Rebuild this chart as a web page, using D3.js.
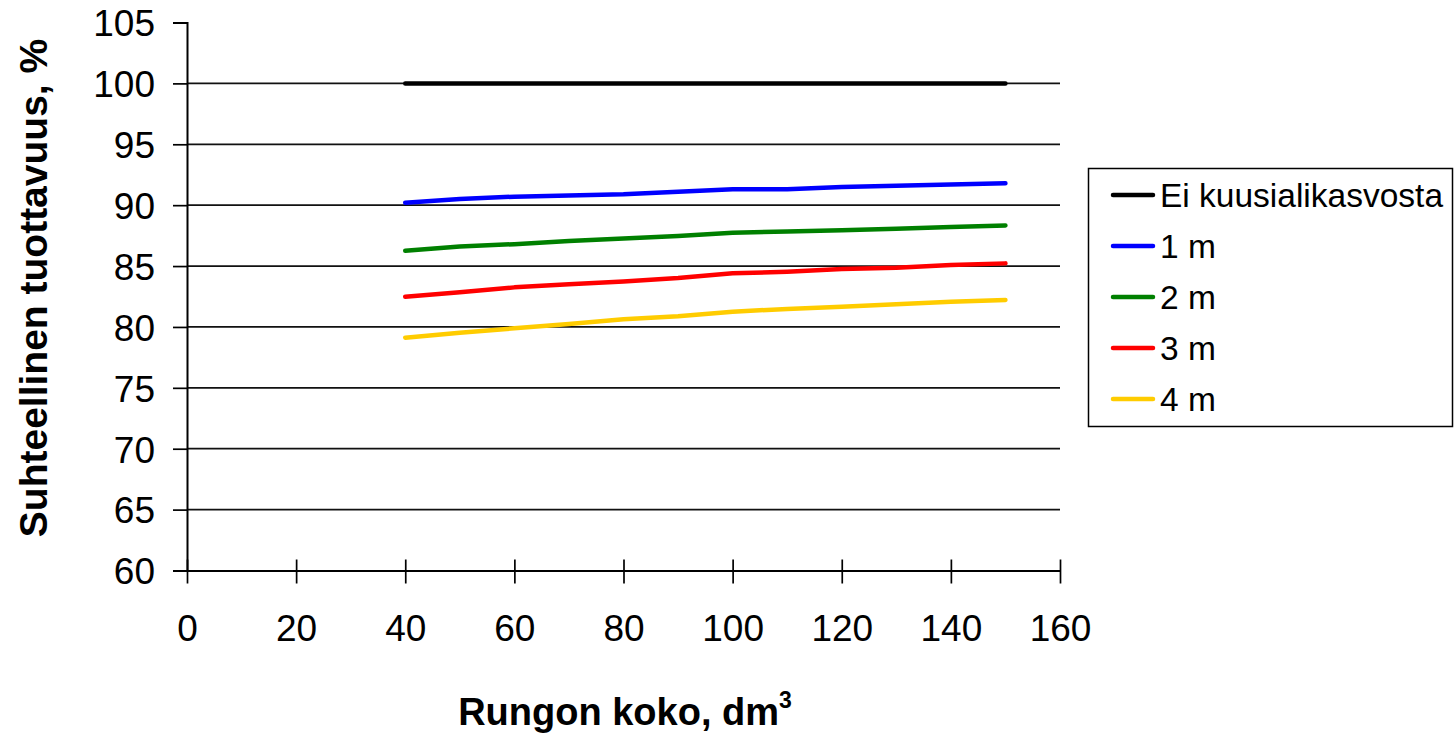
<!DOCTYPE html>
<html>
<head>
<meta charset="utf-8">
<script src="https://cdn.jsdelivr.net/npm/d3@7"></script>
<style>
  html, body { margin: 0; padding: 0; background: #fff; }
  svg { display: block; font-family: "Liberation Sans", Arial, sans-serif; }
</style>
</head>
<body>
<svg id="chart" width="1456" height="733"></svg>
<script>
// Stem size classes (dm3)
const stemSizes = [40, 50, 60, 70, 80, 90, 100, 110, 120, 130, 140, 150];

// Relative productivity (%) by height of spruce undergrowth
const seriesNames = ["Ei kuusialikasvosta", "1 m", "2 m", "3 m", "4 m"];
const noUndergrowth = [100, 100, 100, 100, 100, 100, 100, 100, 100, 100, 100, 100];
const height1m = [90.2, 90.5, 90.7, 90.8, 90.9, 91.1, 91.3, 91.3, 91.5, 91.6, 91.7, 91.8];
const height2m = [86.25, 86.6, 86.8, 87.05, 87.27, 87.46, 87.73, 87.84, 87.95, 88.06, 88.2, 88.33];
const height3m = [82.48, 82.84, 83.25, 83.5, 83.74, 84.02, 84.4, 84.53, 84.75, 84.86, 85.08, 85.22];
const height4m = [79.12, 79.53, 79.89, 80.25, 80.63, 80.88, 81.25, 81.48, 81.66, 81.86, 82.07, 82.21];
const seriesColors = ["#000000", "#0000ff", "#008000", "#ff0000", "#ffcc00"];

const xTicks = [0, 20, 40, 60, 80, 100, 120, 140, 160];
const yTicks = [60, 65, 70, 75, 80, 85, 90, 95, 100, 105];
const gridValues = [65, 70, 75, 80, 85, 90, 95, 100];

const xTitle = "Rungon koko, dm";
const xTitleSup = "3";
const yTitle = "Suhteellinen tuottavuus, %";

const series = [noUndergrowth, height1m, height2m, height3m, height4m].map((vals, i) => ({
  name: seriesNames[i],
  color: seriesColors[i],
  points: stemSizes.map((s, j) => ({ x: s, y: vals[j] }))
}));

const svg = d3.select("#chart");
const plotLeft = 187, plotRight = 1060, plotTop = 22.5, plotBottom = 570.5;

const x = d3.scaleLinear().domain([0, 160]).range([plotLeft, plotRight]);
const y = d3.scaleLinear().domain([60, 105]).range([plotBottom, plotTop]);

// Horizontal gridlines
svg.append("g")
  .selectAll("line")
  .data(gridValues)
  .join("line")
  .attr("x1", plotLeft).attr("x2", plotRight)
  .attr("y1", d => y(d)).attr("y2", d => y(d))
  .attr("stroke", "#111")
  .attr("stroke-width", 1.7);

// Y axis
const yAxis = svg.append("g")
  .attr("transform", `translate(${plotLeft},0)`)
  .call(d3.axisLeft(y).tickValues(yTicks).tickSize(14).tickPadding(18).tickFormat(d3.format("d")));
yAxis.select(".domain").attr("stroke", "#000").attr("stroke-width", 2);
yAxis.selectAll(".tick line").attr("stroke", "#000").attr("stroke-width", 1.7);
yAxis.selectAll(".tick text")
  .attr("font-size", 37)
  .attr("font-family", "Liberation Sans, Arial, sans-serif")
  .attr("fill", "#000")
  .attr("dy", "0.36em");

// X axis (ticks cross the axis line)
const xAxis = svg.append("g")
  .attr("transform", `translate(0,${plotBottom})`)
  .call(d3.axisBottom(x).tickValues(xTicks).tickSizeInner(13).tickSizeOuter(0).tickPadding(31).tickFormat(d3.format("d")));
xAxis.select(".domain").attr("stroke", "#000").attr("stroke-width", 2);
xAxis.selectAll(".tick line").attr("stroke", "#000").attr("stroke-width", 1.7).attr("y1", -11);
xAxis.selectAll(".tick text")
  .attr("font-size", 37)
  .attr("font-family", "Liberation Sans, Arial, sans-serif")
  .attr("fill", "#000")
  .attr("dy", "0.71em");

// Series lines
const line = d3.line().x(d => x(d.x)).y(d => y(d.y));
svg.append("g")
  .selectAll("path")
  .data(series)
  .join("path")
  .attr("d", d => line(d.points))
  .attr("fill", "none")
  .attr("stroke", d => d.color)
  .attr("stroke-width", 4.5)
  .attr("stroke-linejoin", "round")
  .attr("stroke-linecap", "round");

// Axis titles
const xt = svg.append("text")
  .attr("x", 625).attr("y", 725)
  .attr("text-anchor", "middle")
  .attr("font-size", 38)
  .attr("font-weight", "bold")
  .attr("fill", "#000");
xt.append("tspan").text(xTitle);
xt.append("tspan").text(xTitleSup).attr("font-size", 23).attr("dy", -17);

svg.append("text")
  .attr("transform", `translate(47,288) rotate(-90)`)
  .attr("text-anchor", "middle")
  .attr("font-size", 39)
  .attr("font-weight", "bold")
  .attr("fill", "#000")
  .text(yTitle);

// Legend
const legend = svg.append("g");
legend.append("rect")
  .attr("x", 1088.5).attr("y", 168.5)
  .attr("width", 364).attr("height", 258)
  .attr("fill", "#fff")
  .attr("stroke", "#000")
  .attr("stroke-width", 1.5);
const rowY = d3.scalePoint().domain(seriesNames).range([195, 399]);
const rows = legend.selectAll("g.row")
  .data(series)
  .join("g")
  .attr("class", "row")
  .attr("transform", d => `translate(0,${rowY(d.name)})`);
rows.append("line")
  .attr("x1", 1113).attr("x2", 1153)
  .attr("stroke", d => d.color)
  .attr("stroke-width", 4.5)
  .attr("stroke-linecap", "round");
rows.append("text")
  .attr("x", 1160)
  .attr("dy", "0.36em")
  .attr("font-size", 33.5)
  .attr("fill", "#000")
  .text(d => d.name);
</script>
</body>
</html>
